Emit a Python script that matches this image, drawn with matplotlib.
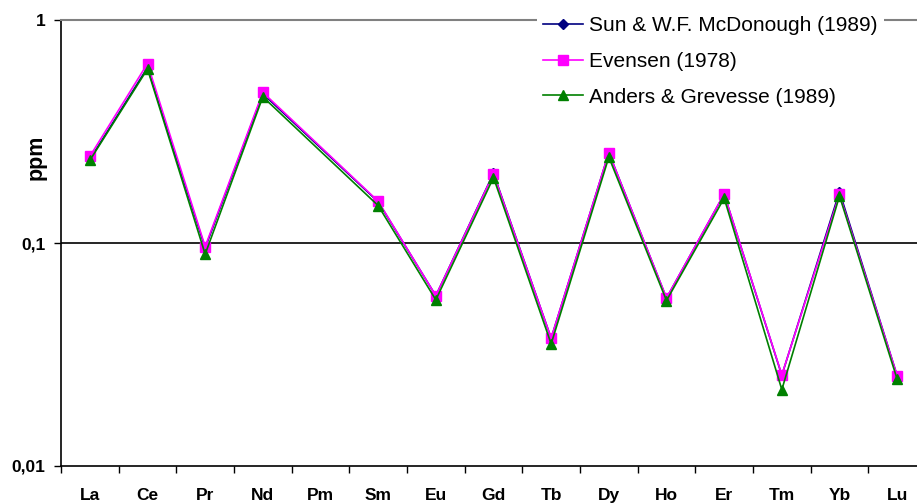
import numpy as np
import matplotlib
matplotlib.use("Agg")
import matplotlib.pyplot as plt
from matplotlib.ticker import FixedLocator, NullLocator, FixedFormatter

plt.rcParams['font.family'] = ['Liberation Sans', 'DejaVu Sans']

elements = ["La", "Ce", "Pr", "Nd", "Pm", "Sm", "Eu", "Gd", "Tb", "Dy", "Ho", "Er", "Tm", "Yb", "Lu"]
sun_mcdonough = [0.237, 0.612, 0.095, 0.467, np.nan, 0.153, 0.058, 0.2055, 0.0374, 0.254, 0.0566, 0.1655, 0.0255, 0.170, 0.0254]
evensen = [0.2446, 0.6379, 0.09637, 0.4738, np.nan, 0.1540, 0.05802, 0.2043, 0.03745, 0.2541, 0.0567, 0.1660, 0.02561, 0.1651, 0.02539]
anders_grevesse = [0.2347, 0.6032, 0.0891, 0.4524, np.nan, 0.1471, 0.0556, 0.1966, 0.0353, 0.2427, 0.0552, 0.1589, 0.0220, 0.1625, 0.0245]
series_names = ["Sun & W.F. McDonough (1989)", "Evensen (1978)", "Anders & Grevesse (1989)"]
ytick_vals = [0.01, 0.1, 1]
ytick_labels = ["0,01", "0,1", "1"]

W, H = 917, 504
fig = plt.figure(figsize=(W / 100, H / 100), dpi=100)
left, right, top, bottom = 61, 926, 20, 466
ax = fig.add_axes([left / W, 1 - bottom / H, (right - left) / W, (bottom - top) / H])

x = np.arange(len(elements))

def plot_series(vals, color, marker, ms, label, z):
    v = np.array(vals, dtype=float)
    m = ~np.isnan(v)
    ax.plot(x[m], v[m], color=color, marker=marker, markersize=ms, lw=1.2,
            markeredgecolor=color, markerfacecolor=color, label=label, zorder=z)

plot_series(sun_mcdonough, "#000080", "D", 5, series_names[0], 3)
plot_series(evensen, "#FF00FF", "s", 6.5, series_names[1], 4)
plot_series(anders_grevesse, "#008000", "^", 7, series_names[2], 5)

ax.set_yscale('log')
ax.set_ylim(0.01, 1)
ax.set_xlim(-0.5, len(elements) - 0.5)

ax.yaxis.set_major_locator(FixedLocator(ytick_vals))
ax.yaxis.set_major_formatter(FixedFormatter(ytick_labels))
ax.yaxis.set_minor_locator(NullLocator())
ax.tick_params(axis='y', which='major', direction='out', length=5, width=1, pad=6,
               labelsize=12.5, colors='black')
for t in ax.get_yticklabels():
    t.set_fontweight('bold')

ax.set_xticks(x)
ax.set_xticklabels(elements, fontweight='bold', fontsize=12.5)
ax.set_xticks(np.arange(len(elements) + 1) - 0.5, minor=True)
ax.tick_params(axis='x', which='major', length=0, pad=16)
ax.tick_params(axis='x', which='minor', direction='out', length=5, width=1, color='black')

ax.axhline(0.1, color='black', lw=1.2, zorder=1)

ax.spines['right'].set_visible(False)
ax.spines['top'].set_color('#808080')
ax.spines['top'].set_linewidth(1.5)
ax.spines['left'].set_color('black')
ax.spines['bottom'].set_color('black')
ax.spines['left'].set_linewidth(1.2)
ax.spines['bottom'].set_linewidth(1.2)

fig.text(36 / W, 1 - 157 / H, "ppm", rotation=90, fontsize=15.5, fontweight='bold',
         ha='center', va='center')

leg = ax.legend(loc='upper left', bbox_to_anchor=(537 / W, 1 - 10 / H),
                bbox_transform=fig.transFigure, frameon=True, fontsize=15,
                handlelength=1.9, handletextpad=0.3, labelspacing=0.8,
                borderpad=0.3, borderaxespad=0, fancybox=False)
leg.get_frame().set_facecolor('white')
leg.get_frame().set_edgecolor('none')
leg.get_frame().set_alpha(1)
leg.set_zorder(10)

fig.savefig("out.png", dpi=100)
